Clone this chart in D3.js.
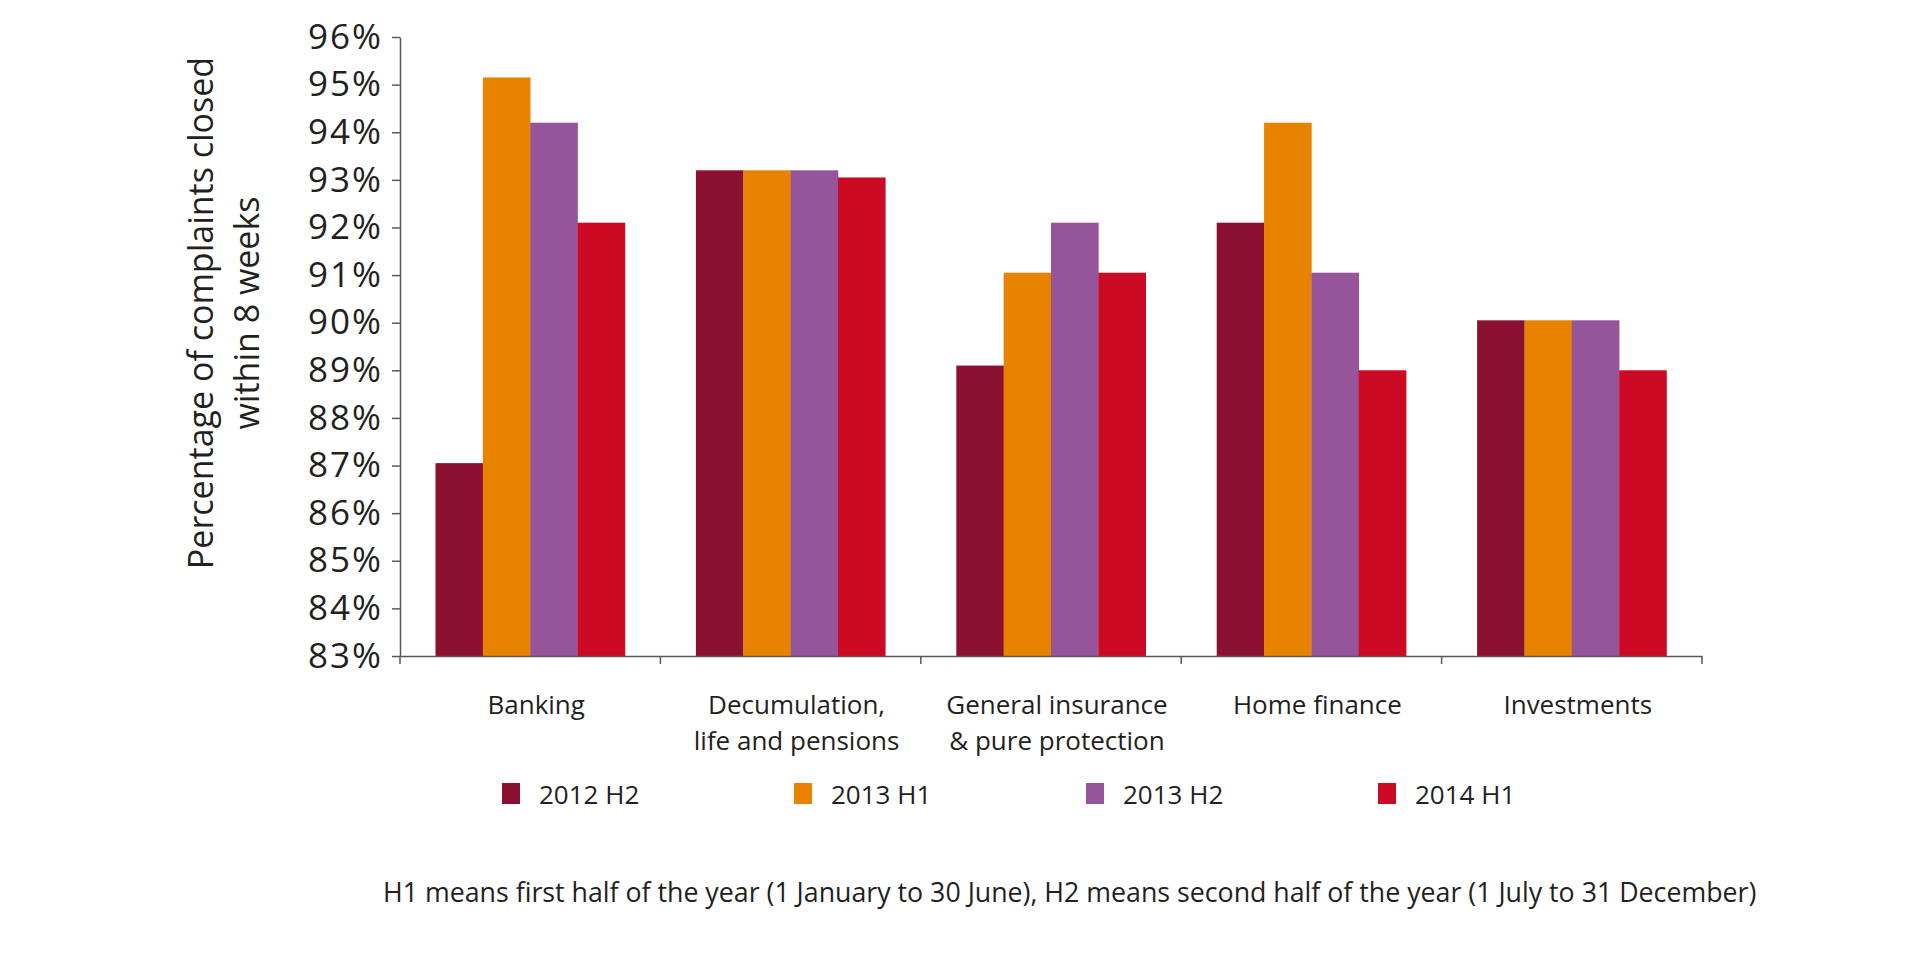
<!DOCTYPE html>
<html>
<head>
<meta charset="utf-8">
<script src="https://cdn.jsdelivr.net/npm/d3@7"></script>
<style>
  html, body { margin: 0; padding: 0; background: #fff; }
  svg { display: block; }
  text { font-family: "Open Sans", "Noto Sans", sans-serif; fill: #231f20; }
</style>
</head>
<body>
<svg id="chart" width="1917" height="958"></svg>
<script>
const categories = ["Banking", "Decumulation,\nlife and pensions", "General insurance\n& pure protection", "Home finance", "Investments"];
const seriesNames = ["2012 H2", "2013 H1", "2013 H2", "2014 H1"];
const seriesColors = ["#8c1030", "#e88300", "#96559b", "#cc0a24"];
const s2012H2 = [87.05, 93.2, 89.1, 92.1, 90.05];
const s2013H1 = [95.15, 93.2, 91.05, 94.2, 90.05];
const s2013H2 = [94.2, 93.2, 92.1, 91.05, 90.05];
const s2014H1 = [92.1, 93.05, 91.05, 89.0, 89.0];
const yTicks = [83, 84, 85, 86, 87, 88, 89, 90, 91, 92, 93, 94, 95, 96];
const yTitle = ["Percentage of complaints closed", "within 8 weeks"];
const footnote = "H1 means first half of the year (1 January to 30 June), H2 means second half of the year (1 July to 31 December)";

const seriesValues = [s2012H2, s2013H1, s2013H2, s2014H1];

const svg = d3.select("#chart");
const mLeft = 400, mRight = 1702, mTop = 37, mBottom = 656;

const x0 = d3.scaleBand().domain(categories).range([mLeft, mRight]).padding(0);
const x1 = d3.scaleBand().domain(seriesNames).range([0, x0.bandwidth()]).paddingInner(0).paddingOuter(0.75);
const y = d3.scaleLinear().domain([83, 96]).range([mBottom, mTop]);

// bars
const groups = svg.append("g").selectAll("g")
  .data(categories)
  .join("g")
  .attr("transform", d => `translate(${x0(d)},0)`);

groups.selectAll("rect")
  .data((c, i) => seriesNames.map((s, j) => ({ s, j, v: seriesValues[j][i] })))
  .join("rect")
  .attr("x", d => x1(d.s))
  .attr("width", x1.bandwidth() + 0.3)
  .attr("y", d => y(d.v))
  .attr("height", d => y(83) - y(d.v))
  .attr("fill", d => seriesColors[d.j]);

// y axis
const yAxis = svg.append("g")
  .attr("transform", `translate(${mLeft},0)`)
  .call(d3.axisLeft(y).tickValues(yTicks).tickFormat(d => d + "%").tickSize(8).tickPadding(9).tickSizeOuter(0));
yAxis.select(".domain").attr("stroke", "#595959").attr("stroke-width", 1.5);
yAxis.selectAll(".tick line").attr("stroke", "#595959").attr("stroke-width", 1.5);
yAxis.selectAll(".tick text")
  .attr("font-size", 35)
  .attr("letter-spacing", 2)
  .attr("font-family", "'Open Sans', sans-serif")
  .attr("fill", "#231f20");

// x axis
const xAxis = svg.append("g")
  .attr("transform", `translate(0,${mBottom})`)
  .call(d3.axisBottom(x0).tickValues([]).tickSizeOuter(0));
xAxis.select(".domain").attr("stroke", "#595959").attr("stroke-width", 1.5);
const boundaries = categories.map(c => x0(c)).concat([x0(categories[categories.length - 1]) + x0.bandwidth()]);
xAxis.selectAll("line.bt")
  .data(boundaries)
  .join("line")
  .attr("class", "bt")
  .attr("x1", d => d).attr("x2", d => d)
  .attr("y1", 0).attr("y2", 8)
  .attr("stroke", "#595959").attr("stroke-width", 1.5);

// category labels
const catLabels = svg.append("g").selectAll("text")
  .data(categories)
  .join("text")
  .attr("text-anchor", "middle")
  .attr("font-size", 26)
  .attr("x", d => x0(d) + x0.bandwidth() / 2 + 6)
  .attr("y", 714);
catLabels.each(function(d) {
  const lines = d.split("\n");
  d3.select(this).selectAll("tspan")
    .data(lines)
    .join("tspan")
    .attr("x", x0(d) + x0.bandwidth() / 2 + 6)
    .attr("dy", (l, i) => i === 0 ? 0 : 36)
    .text(l => l);
});

// y title
const yt = svg.append("text")
  .attr("transform", "translate(213,313) rotate(-90)")
  .attr("text-anchor", "middle")
  .attr("font-size", 34);
yt.selectAll("tspan")
  .data(yTitle)
  .join("tspan")
  .attr("x", 0)
  .attr("dy", (d, i) => i === 0 ? 0 : 46)
  .text(d => d);

// legend
const legendX = d3.scalePoint().domain(seriesNames).range([502, 1378]);
const lg = svg.append("g").selectAll("g")
  .data(seriesNames)
  .join("g")
  .attr("transform", d => `translate(${legendX(d)},783)`);
lg.append("rect")
  .attr("width", 18).attr("height", 21)
  .attr("fill", (d, i) => seriesColors[i]);
lg.append("text")
  .attr("x", 37).attr("y", 21)
  .attr("font-size", 26)
  .text(d => d);

// footnote
const fn = svg.append("text")
  .attr("x", 383).attr("y", 902)
  .attr("font-size", 26)
  .text(footnote);
const w = fn.node().getComputedTextLength();
if (w > 0) fn.attr("font-size", 26 * 1374 / w);
</script>
</body>
</html>
